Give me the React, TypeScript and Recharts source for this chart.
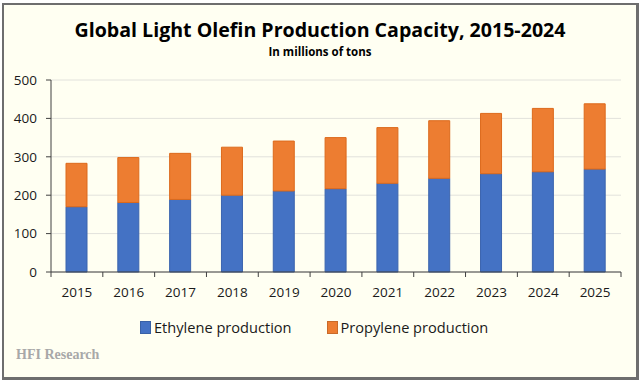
import React from "react";
import { BarChart, Bar, XAxis, YAxis, CartesianGrid } from "recharts";

const years = ["2015", "2016", "2017", "2018", "2019", "2020", "2021", "2022", "2023", "2024", "2025"];
const ethylene = [170, 181, 189, 200, 211, 217, 231, 244, 256, 261, 268];
const propylene = [113, 117, 120, 125, 130, 133, 145, 150, 157, 165, 170];
const yTicks = [0, 100, 200, 300, 400, 500];

const data = years.map((year, i) => ({
  year,
  ethylene: ethylene[i],
  propylene: propylene[i],
}));

const CHART_W = 640;
const CHART_H = 382;
const X_AXIS_H = 30;
const MARGIN = { top: 80, right: 19, bottom: 110 - X_AXIS_H, left: 0 };
const Y_AXIS_W = 51;
const PLOT_W = CHART_W - MARGIN.left - MARGIN.right - Y_AXIS_W;
const BAND = PLOT_W / years.length;

const FONT = "'Open Sans', 'DejaVu Sans', sans-serif";
const BLUE = "#4472C4";
const ORANGE = "#ED7D31";

// Excel-style category ticks: marks sit between the bars, labels under them
const YearTick = (props: any) => {
  const { x, y, payload, index } = props;
  const left = x - BAND / 2;
  const right = x + BAND / 2;
  return (
    <g>
      <line x1={left} y1={y} x2={left} y2={y + 5} stroke="#404040" />
      {index === years.length - 1 && (
        <line x1={right} y1={y} x2={right} y2={y + 5} stroke="#404040" />
      )}
      <text
        x={x}
        y={y + 25}
        textAnchor="middle"
        fontSize={13.5}
        fontFamily={FONT}
        fill="#1a1a1a"
      >
        {payload.value}
      </text>
    </g>
  );
};

const LegendItem = ({ color, label, gap }: { color: string; label: string; gap: number }) => (
  <div style={{ display: "flex", alignItems: "center", marginRight: gap }}>
    <span
      style={{
        width: 9,
        height: 11,
        background: color,
        border: "1px solid rgba(0,0,0,0.15)",
        marginRight: 3,
      }}
    />
    <span style={{ fontSize: 14.6, color: "#1a1a1a" }}>{label}</span>
  </div>
);

export default function App() {
  return (
    <div
      style={{
        position: "absolute",
        left: 0,
        top: 0,
        width: CHART_W,
        height: CHART_H,
        background: "#ffffff",
        fontFamily: FONT,
      }}
    >
      <div
        style={{
          position: "absolute",
          left: 2,
          top: 3,
          width: 632,
          height: 372,
          border: "2px solid #6e6e6e",
          borderRightWidth: 3,
          borderBottomWidth: 3,
          background: "#FFFFF2",
        }}
      />
      <div
        style={{
          position: "absolute",
          left: 0,
          top: 15,
          width: CHART_W,
          textAlign: "center",
          fontSize: 19.6,
          fontWeight: 700,
          color: "#000",
          lineHeight: "30px",
        }}
      >
        Global Light Olefin Production Capacity, 2015-2024
      </div>
      <div
        style={{
          position: "absolute",
          left: 0,
          top: 44,
          width: CHART_W,
          textAlign: "center",
          fontSize: 11.5,
          fontWeight: 700,
          color: "#000",
          lineHeight: "16px",
        }}
      >
        In millions of tons
      </div>
      <div style={{ position: "absolute", left: 0, top: 0 }}>
        <BarChart width={CHART_W} height={CHART_H} data={data} margin={MARGIN}>
          <CartesianGrid vertical={false} stroke="#e2e2dc" />
          <XAxis
            dataKey="year"
            height={X_AXIS_H}
            axisLine={{ stroke: "#404040" }}
            tickLine={false}
            tickSize={0}
            tickMargin={0}
            interval={0}
            tick={<YearTick />}
          />
          <YAxis
            width={Y_AXIS_W}
            domain={[0, 500]}
            ticks={yTicks}
            interval={0}
            axisLine={{ stroke: "#404040" }}
            tickLine={{ stroke: "#404040" }}
            tickSize={5}
            tickMargin={9}
            tick={{ fontSize: 13.5, fontFamily: FONT, fill: "#1a1a1a" }}
          />
          <Bar
            dataKey="ethylene"
            stackId="a"
            fill={BLUE}
            stroke="#3b64ae"
            strokeWidth={1}
            barSize={21}
            isAnimationActive={false}
          />
          <Bar
            dataKey="propylene"
            stackId="a"
            fill={ORANGE}
            stroke="#dc6a1c"
            strokeWidth={1}
            barSize={21}
            isAnimationActive={false}
          />
        </BarChart>
      </div>
      <div
        style={{
          position: "absolute",
          left: 140,
          top: 317,
          display: "flex",
          alignItems: "center",
          height: 20,
        }}
      >
        <LegendItem color={BLUE} label="Ethylene production" gap={35} />
        <LegendItem color={ORANGE} label="Propylene production" gap={0} />
      </div>
      <div
        style={{
          position: "absolute",
          left: 16,
          top: 346,
          fontFamily: "'Liberation Serif', 'DejaVu Serif', serif",
          fontWeight: 700,
          fontSize: 14,
          color: "#a8a8a8",
          lineHeight: "18px",
        }}
      >
        HFI Research
      </div>
    </div>
  );
}
